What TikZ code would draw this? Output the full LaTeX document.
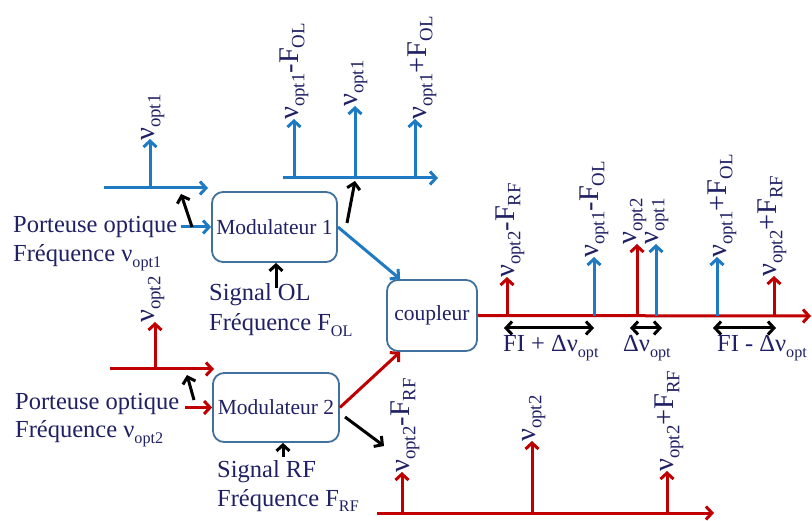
\documentclass[tikz,border=0pt]{standalone}
\usepackage{fontspec}
\setmainfont{Liberation Serif}
\usepackage{graphicx}
\usetikzlibrary{arrows.meta}
\definecolor{txt}{RGB}{32,32,100}
\definecolor{bl}{RGB}{31,122,196}
\definecolor{rd}{RGB}{192,0,0}
\definecolor{bx}{RGB}{65,113,156}
\newcommand{\sbs}[1]{\raisebox{-0.22em}{\scalebox{0.66}{#1}}}
\begin{document}
\begin{tikzpicture}[x=1pt,y=-1pt,
 box/.style={draw=bx,line width=1.8pt,rounded corners=11pt,fill=white,text=txt,font=\fontsize{21.5}{24}\selectfont,inner sep=0pt},
 lbl/.style={text=txt,font=\fontsize{24.5}{28}\selectfont,inner sep=0pt,anchor=base west},
 spl/.style={text=txt,font=\fontsize{28.5}{30}\selectfont,inner sep=0pt,rotate=90,anchor=base west},
 arr/.style={line width=3pt,-{Straight Barb[length=6pt,width=13pt]}},
 barr/.style={arr,draw=bl},
 rarr/.style={arr,draw=rd},
 karr/.style={arr,draw=black},
 darr/.style={line width=3pt,draw=black,{Straight Barb[length=6pt,width=13pt]}-{Straight Barb[length=6pt,width=13pt]}}
]
\useasboundingbox (0,0) rectangle (812,521);

% boxes
\node[box,minimum width=125pt,minimum height=70pt] (mod1) at (274.5,227) {Modulateur 1};
\node[box,minimum width=126pt,minimum height=69pt] (mod2) at (276,407.5) {Modulateur 2};
\node[box,minimum width=90pt,minimum height=71pt] (coup) at (432,315.5) {coupleur};

% text labels
\node[lbl] (p1a) at (13,233) {Porteuse optique};
\node[lbl] (p1b) at (13,262) {Fréquence ν\sbs{opt1}};
\node[lbl] (p2a) at (15,410) {Porteuse optique};
\node[lbl] (p2b) at (15,438) {Fréquence ν\sbs{opt2}};
\node[lbl] (sg1a) at (209,301) {Signal OL};
\node[lbl] (sg1b) at (209,331) {Fréquence F\sbs{OL}};
\node[lbl] (sg2a) at (217,478) {Signal RF};
\node[lbl] (sg2b) at (217,506) {Fréquence F\sbs{RF}};

% spectrum 1 (input opt1)
\coordinate (s1L) at (104,188); \coordinate (s1R) at (208,188);
\coordinate (s1b) at (150,188); \coordinate (s1t) at (150,139);
\draw[barr] (s1L) -- (s1R);
\draw[barr] (s1b) -- (s1t);
\node[spl] (s1lab) at (154,141) {ν\sbs{opt1}};

% spectrum 2 (output modulateur 1)
\coordinate (s2L) at (283,178); \coordinate (s2R) at (438,178);
\draw[barr] (s2L) -- (s2R);
\coordinate (s2b1) at (294,178); \coordinate (s2t1) at (294,119);
\coordinate (s2b2) at (355,178); \coordinate (s2t2) at (355,106);
\coordinate (s2b3) at (415,178); \coordinate (s2t3) at (415,119);
\draw[barr] (s2b1) -- (s2t1);
\draw[barr] (s2b2) -- (s2t2);
\draw[barr] (s2b3) -- (s2t3);
\node[spl] (s2l1) at (298,120) {ν\sbs{opt1}-F\sbs{OL}};
\node[spl] (s2l2) at (357,107) {ν\sbs{opt1}};
\node[spl] (s2l3) at (426,120) {ν\sbs{opt1}+F\sbs{OL}};

% spectrum 3 (input opt2)
\coordinate (s3L) at (110,369); \coordinate (s3R) at (214,369);
\coordinate (s3b) at (155,369); \coordinate (s3t) at (155,322);
\draw[rarr] (s3L) -- (s3R);
\draw[rarr] (s3b) -- (s3t);
\node[spl] (s3lab) at (154,323) {ν\sbs{opt2}};

% spectrum 4 (output modulateur 2)
\coordinate (s4L) at (377,513); \coordinate (s4R) at (714,513);
\draw[rarr] (s4L) -- (s4R);
\coordinate (s4b1) at (402,513); \coordinate (s4t1) at (402,472);
\coordinate (s4b2) at (532,513); \coordinate (s4t2) at (532,441);
\coordinate (s4b3) at (667,513); \coordinate (s4t3) at (667,471);
\draw[rarr] (s4b1) -- (s4t1);
\draw[rarr] (s4b2) -- (s4t2);
\draw[rarr] (s4b3) -- (s4t3);
\node[spl] (s4l1) at (409,473) {ν\sbs{opt2}-F\sbs{RF}};
\node[spl] (s4l2) at (535,442) {ν\sbs{opt2}};
\node[spl] (s4l3) at (673,472) {ν\sbs{opt2}+F\sbs{RF}};

% main output spectrum
\coordinate (mR) at (811,316);
\draw[rarr] (coup.east) -- (mR);
\coordinate (m1b) at (507,316); \coordinate (m1t) at (507,277);
\coordinate (m2b) at (594,316); \coordinate (m2t) at (594,257);
\coordinate (m3b) at (637,316); \coordinate (m3t) at (637,244);
\coordinate (m4b) at (656,316); \coordinate (m4t) at (656,244);
\coordinate (m5b) at (717,316); \coordinate (m5t) at (717,257);
\coordinate (m6b) at (774,316); \coordinate (m6t) at (774,276);
\draw[rarr] (m1b) -- (m1t);
\draw[barr] (m2b) -- (m2t);
\draw[rarr] (m3b) -- (m3t);
\draw[barr] (m4b) -- (m4t);
\draw[barr] (m5b) -- (m5t);
\draw[rarr] (m6b) -- (m6t);
\node[spl] (ml1) at (514,278) {ν\sbs{opt2}-F\sbs{RF}};
\node[spl] (ml2) at (598,258) {ν\sbs{opt1}-F\sbs{OL}};
\node[spl] (ml3) at (636,245) {ν\sbs{opt2}};
\node[spl] (ml4) at (658,245) {ν\sbs{opt1}};
\node[spl] (ml5) at (726,258) {ν\sbs{opt1}+F\sbs{OL}};
\node[spl] (ml6) at (776,277) {ν\sbs{opt2}+F\sbs{RF}};

% spacing arrows
\coordinate (d1a) at (504,328); \coordinate (d1b) at (594,328);
\coordinate (d2a) at (630,328); \coordinate (d2b) at (662,328);
\coordinate (d3a) at (713,328); \coordinate (d3b) at (776,328);
\draw[darr] (d1a) -- (d1b);
\draw[darr] (d2a) -- (d2b);
\draw[darr] (d3a) -- (d3b);
\node[lbl] (dl1) at (503,352) {FI + Δν\sbs{opt}};
\node[lbl] (dl2) at (623,352) {Δν\sbs{opt}};
\node[lbl] (dl3) at (717,352) {FI - Δν\sbs{opt}};

% coloured connectors
\coordinate (in1) at (181,227);
\coordinate (in2) at (185,407.5);
\draw[barr] (in1) -- (mod1.west);
\draw[rarr] (in2) -- (mod2.west);
\draw[barr] (mod1.east) -- ([xshift=14pt]coup.north west);
\draw[rarr] (mod2.east) -- ([xshift=14pt]coup.south west);

% black pointer arrows
\coordinate (k1a) at (192,227); \coordinate (k1b) at (181,194);
\coordinate (k2a) at (347,223); \coordinate (k2b) at (355,181);
\coordinate (k3a) at (276,288);
\coordinate (k4a) at (194,400); \coordinate (k4b) at (187,375);
\coordinate (k5a) at (283,457);
\coordinate (k6a) at (345,417); \coordinate (k6b) at (384,446);
\draw[karr] (k1a) -- (k1b);
\draw[karr] (k2a) -- (k2b);
\draw[karr] (k3a) -- (k3a |- mod1.south);
\draw[karr] (k4a) -- (k4b);
\draw[karr] (k5a) -- (k5a |- mod2.south);
\draw[karr] (k6a) -- (k6b);
\end{tikzpicture}
\end{document}
